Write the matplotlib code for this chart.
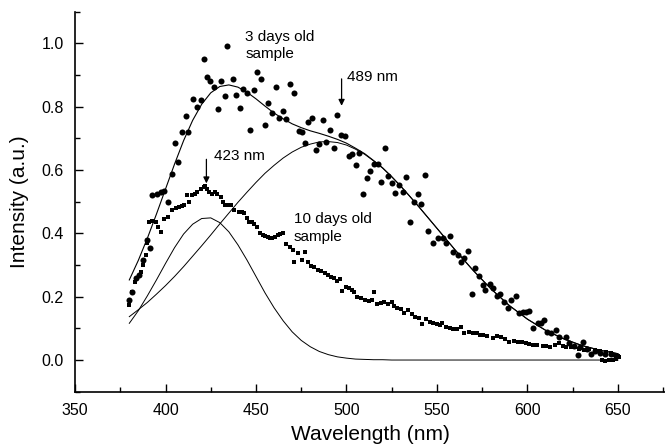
import matplotlib.pyplot as plt
from matplotlib.ticker import MultipleLocator

plt.rcParams['font.family'] = ['Liberation Sans', 'DejaVu Sans']

# 3 days old sample (big dots)
wl3 = [380.0, 381.7, 383.6, 385.5, 387.6, 389.6, 391.5, 392.8, 395.5, 397.5, 399.2, 401.6, 403.8, 405.1, 406.8,
       409.0, 411.2, 412.7, 415.3, 417.5, 419.5, 421.0, 422.8, 424.7, 426.9, 428.9, 430.9, 433.0, 434.2, 437.4,
       438.9, 441.1, 442.9, 445.1, 446.8, 448.8, 450.7, 452.9, 455.1, 456.7, 459.1, 461.0, 462.8, 464.7, 466.5,
       468.9, 471.0, 473.9, 475.2, 477.2, 478.5, 480.9, 483.1, 485.0, 486.8, 488.7, 490.9, 492.9, 494.7, 497.0,
       499.3, 501.2, 503.0, 505.3, 507.1, 509.3, 511.2, 513.2, 515.0, 517.2, 519.1, 521.3, 522.7, 525.2, 527.0,
       529.2, 531.0, 532.9, 535.1, 537.1, 539.3, 541.2, 543.2, 544.9, 547.6, 550.4, 553.2, 555.0, 557.2, 558.7,
       561.5, 563.3, 565.2, 567.0, 569.4, 571.2, 573.1, 575.3, 576.8, 579.4, 580.8, 583.0, 584.9, 587.3, 589.1,
       591.0, 593.4, 595.2, 597.4, 599.3, 601.1, 603.3, 605.7, 607.6, 609.4, 610.7, 613.1, 615.5, 617.3, 621.4,
       623.2, 625.5, 627.8, 629.0, 630.6, 633.0, 635.0, 637.5, 640.0, 643.0, 646.0, 649.0]
int3 = [0.190, 0.214, 0.258, 0.270, 0.316, 0.379, 0.353, 0.521, 0.526, 0.530, 0.535, 0.500, 0.589, 0.684, 0.626,
        0.721, 0.771, 0.721, 0.824, 0.800, 0.821, 0.952, 0.895, 0.882, 0.861, 0.794, 0.882, 0.835, 0.991, 0.889,
        0.837, 0.797, 0.855, 0.842, 0.726, 0.853, 0.910, 0.889, 0.742, 0.811, 0.779, 0.861, 0.764, 0.787, 0.760,
        0.871, 0.842, 0.723, 0.721, 0.684, 0.752, 0.763, 0.663, 0.682, 0.758, 0.689, 0.728, 0.671, 0.774, 0.710,
        0.707, 0.644, 0.650, 0.616, 0.653, 0.526, 0.574, 0.597, 0.618, 0.618, 0.563, 0.671, 0.581, 0.558, 0.528,
        0.553, 0.531, 0.577, 0.435, 0.500, 0.524, 0.492, 0.586, 0.408, 0.370, 0.384, 0.387, 0.370, 0.391, 0.342,
        0.332, 0.310, 0.321, 0.343, 0.210, 0.290, 0.265, 0.237, 0.221, 0.239, 0.228, 0.202, 0.207, 0.184, 0.163,
        0.189, 0.202, 0.147, 0.153, 0.153, 0.155, 0.102, 0.116, 0.118, 0.126, 0.089, 0.084, 0.095, 0.074, 0.074,
        0.053, 0.045, 0.016, 0.040, 0.058, 0.035, 0.020, 0.030, 0.022, 0.018, 0.020, 0.012]

# 10 days old sample (small dots)
wl10 = [380.0, 381.4, 383.0, 384.5, 386.3, 387.6, 389.1, 390.0, 391.0, 392.5, 394.6, 396.0, 397.4, 399.2, 401.6,
        403.8, 405.7, 407.5, 409.0, 410.3, 412.0, 413.0, 414.9, 416.3, 417.6, 419.5, 421.0, 421.9, 423.0, 424.1,
        425.9, 427.3, 428.7, 430.6, 432.0, 433.0, 434.5, 436.1, 437.9, 440.7, 442.0, 443.5, 445.0, 446.2, 447.6,
        449.0, 450.5, 452.0, 453.6, 455.0, 456.4, 457.8, 459.1, 460.5, 461.9, 463.3, 464.7, 466.5, 468.7, 470.2,
        471.1, 473.0, 475.4, 477.2, 478.8, 480.4, 482.2, 484.0, 486.0, 488.0, 490.0, 491.5, 493.3, 495.0, 496.5,
        497.8, 499.7, 501.5, 503.0, 504.3, 506.0, 508.0, 510.0, 512.6, 514.0, 515.4, 517.0, 519.0, 521.0, 523.0,
        525.0, 526.5, 528.0, 530.0, 532.0, 534.0, 536.0, 538.0, 540.0, 542.0, 544.0, 546.0, 548.0, 550.0, 551.5,
        553.0, 555.0, 557.0, 559.0, 561.0, 563.3, 565.2, 567.5, 569.8, 572.0, 574.0, 575.3, 577.5, 580.8, 583.0,
        585.4, 587.5, 590.0, 592.5, 594.6, 597.0, 599.3, 601.0, 603.0, 605.5, 608.5, 610.5, 612.2, 615.0, 617.7,
        619.5, 621.4, 624.0, 626.0, 628.5, 631.5, 634.0, 637.1, 640.0, 643.5, 646.0, 648.1, 650.0, 641.0, 643.0,
        645.0, 647.0, 649.0, 650.5]
int10 = [0.175, 0.216, 0.245, 0.260, 0.279, 0.300, 0.332, 0.370, 0.437, 0.440, 0.437, 0.420, 0.405, 0.447, 0.452,
         0.474, 0.479, 0.482, 0.485, 0.489, 0.521, 0.500, 0.521, 0.526, 0.531, 0.539, 0.545, 0.549, 0.540, 0.531,
         0.526, 0.530, 0.523, 0.516, 0.500, 0.489, 0.490, 0.489, 0.474, 0.468, 0.466, 0.463, 0.450, 0.437, 0.435,
         0.431, 0.420, 0.400, 0.395, 0.392, 0.389, 0.386, 0.384, 0.390, 0.395, 0.398, 0.400, 0.368, 0.358, 0.347,
         0.310, 0.337, 0.316, 0.342, 0.310, 0.297, 0.295, 0.283, 0.280, 0.276, 0.270, 0.262, 0.258, 0.250, 0.256,
         0.219, 0.232, 0.228, 0.222, 0.216, 0.200, 0.196, 0.190, 0.187, 0.190, 0.216, 0.178, 0.180, 0.183, 0.176,
         0.182, 0.170, 0.164, 0.160, 0.150, 0.158, 0.145, 0.136, 0.133, 0.115, 0.130, 0.120, 0.118, 0.114, 0.110,
         0.116, 0.104, 0.100, 0.098, 0.099, 0.105, 0.084, 0.090, 0.084, 0.085, 0.080, 0.079, 0.077, 0.069, 0.075,
         0.074, 0.065, 0.058, 0.060, 0.058, 0.056, 0.053, 0.052, 0.047, 0.048, 0.044, 0.045, 0.042, 0.046, 0.053,
         0.045, 0.042, 0.040, 0.042, 0.035, 0.032, 0.035, 0.032, 0.028, 0.026, 0.022, 0.016, 0.012, 0.000, -0.002,
         0.000, 0.000, 0.004, 0.010]

# fitted curves
wl_fit = [380, 385, 390, 395, 400, 405, 410, 415, 420, 425, 430, 435, 440, 445, 450, 455, 460, 465, 470, 475,
          480, 485, 490, 495, 500, 505, 510, 515, 520, 525, 530, 535, 540, 550, 560, 570, 580, 590, 600, 610,
          620, 630, 640, 650]
fit_sum = [0.253, 0.315, 0.385, 0.461, 0.540, 0.619, 0.693, 0.757, 0.808, 0.844, 0.864, 0.869, 0.862, 0.846,
           0.825, 0.802, 0.780, 0.762, 0.746, 0.734, 0.724, 0.716, 0.707, 0.697, 0.685, 0.669, 0.652, 0.630,
           0.607, 0.579, 0.549, 0.517, 0.484, 0.416, 0.348, 0.283, 0.224, 0.172, 0.129, 0.094, 0.067, 0.046,
           0.031, 0.020]
peak423 = [0.116, 0.156, 0.203, 0.253, 0.305, 0.355, 0.398, 0.429, 0.447, 0.449, 0.434, 0.405, 0.364, 0.316,
           0.264, 0.212, 0.165, 0.124, 0.089, 0.062, 0.042, 0.027, 0.017, 0.010, 0.006, 0.003, 0.002, 0.001,
           0.001, 0.000, 0.000, 0.000, 0.000, 0.000, 0.000, 0.000, 0.000, 0.000, 0.000, 0.000, 0.000, 0.000,
           0.000, 0.000]
peak489 = [0.137, 0.159, 0.182, 0.208, 0.235, 0.264, 0.295, 0.328, 0.361, 0.395, 0.430, 0.464, 0.498, 0.530,
           0.561, 0.590, 0.615, 0.638, 0.657, 0.672, 0.682, 0.689, 0.690, 0.687, 0.679, 0.666, 0.650, 0.629,
           0.606, 0.579, 0.549, 0.517, 0.484, 0.416, 0.348, 0.283, 0.224, 0.172, 0.129, 0.094, 0.067, 0.046,
           0.031, 0.020]

fig = plt.figure(figsize=(6.65, 4.48), dpi=100)
ax = fig.add_axes([0.1128, 0.1257, 0.8872, 0.848])

ax.plot(wl_fit, fit_sum, c='black', lw=0.8)
ax.plot(wl_fit, peak423, c='black', lw=0.7)
ax.plot(wl_fit, peak489, c='black', lw=0.7)
ax.scatter(wl3, int3, s=19, c='black', marker='o', linewidths=0)
ax.scatter(wl10, int10, s=9, c='black', marker='s', linewidths=0)

ax.text(444, 0.993, "3 days old\nsample", fontsize=11, va='center', ha='left', linespacing=1.3)
ax.text(471, 0.417, "10 days old\nsample", fontsize=11, va='center', ha='left', linespacing=1.3)
ax.text(500.4, 0.893, "489 nm", fontsize=11, va='center', ha='left')
ax.text(426.9, 0.644, "423 nm", fontsize=11, va='center', ha='left')
ax.annotate("", xy=(497.3, 0.803), xytext=(497.3, 0.888),
            arrowprops=dict(arrowstyle='-|>', color='black', lw=0.9, mutation_scale=9, shrinkA=0, shrinkB=0))
ax.annotate("", xy=(422.6, 0.558), xytext=(422.6, 0.634),
            arrowprops=dict(arrowstyle='-|>', color='black', lw=0.9, mutation_scale=9, shrinkA=0, shrinkB=0))

ax.set_xlim(350, 676)
ax.set_ylim(-0.1, 1.1)
ax.xaxis.set_major_locator(MultipleLocator(50))
ax.xaxis.set_minor_locator(MultipleLocator(25))
ax.yaxis.set_minor_locator(MultipleLocator(0.1))
ax.set_yticks([0.0, 0.2, 0.4, 0.6, 0.8, 1.0])
ax.set_yticklabels(["0.0", "0.2", "0.4", "0.6", "0.8", "1.0"])
ax.tick_params(which='both', direction='in', labelsize=11.5, width=1.0)
ax.tick_params(which='major', length=6, pad=8)
ax.tick_params(which='minor', length=3.5)
ax.spines['top'].set_visible(False)
ax.spines['right'].set_visible(False)
ax.spines['left'].set_linewidth(1.2)
ax.spines['bottom'].set_linewidth(1.2)

ax.set_xlabel("Wavelength (nm)", fontsize=15, labelpad=5)
ax.set_ylabel("Intensity (a.u.)", fontsize=15, labelpad=9)

fig.savefig("out.png", dpi=100)
